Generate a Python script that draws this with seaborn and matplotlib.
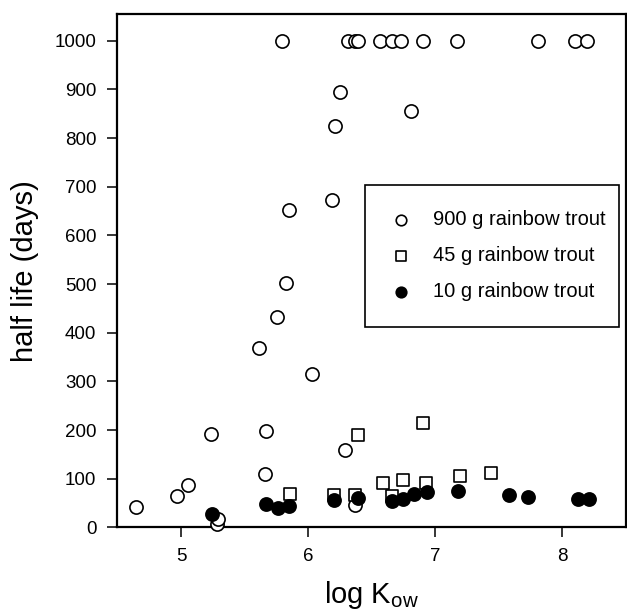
import matplotlib
matplotlib.use('Agg')
import matplotlib.pyplot as plt
import seaborn as sns

# 900 g rainbow trout (open circles)
kow_900 = [4.645, 4.965, 5.055, 5.236, 5.278, 5.288, 5.612, 5.656, 5.664, 5.749,
           5.793, 5.827, 5.846, 6.032, 6.187, 6.208, 6.247, 6.287, 6.313, 6.366,
           6.366, 6.392, 6.563, 6.655, 6.728, 6.807, 6.904, 7.167, 7.805, 8.099, 8.191]
half_life_900 = [42, 64, 87, 193, 8, 18, 368, 110, 199, 433,
                 1000, 502, 653, 316, 673, 824, 894, 160, 1000, 1000,
                 47, 1000, 1000, 1000, 1000, 855, 1000, 1000, 1000, 1000, 1000]

# 45 g rainbow trout (open squares)
kow_45 = [5.853, 6.203, 6.366, 6.387, 6.589, 6.66, 6.746, 6.899, 6.925, 7.193, 7.437]
half_life_45 = [68, 66, 66, 191, 92, 64, 98, 214, 92, 105, 112]

# 10 g rainbow trout (filled circles)
kow_10 = [5.241, 5.67, 5.757, 5.846, 6.203, 6.387, 6.655, 6.746, 6.833, 6.931,
          7.18, 7.579, 7.731, 8.12, 8.212]
half_life_10 = [27, 49, 40, 44, 57, 60, 54, 59, 69, 72, 74, 66, 63, 59, 59]

x_ticks = [5, 6, 7, 8]
y_ticks = [0, 100, 200, 300, 400, 500, 600, 700, 800, 900, 1000]

sns.set_style('ticks')
plt.rcParams['font.family'] = ['Liberation Sans', 'DejaVu Sans']
plt.rcParams['text.color'] = 'black'
plt.rcParams['axes.labelcolor'] = 'black'
plt.rcParams['xtick.color'] = 'black'
plt.rcParams['ytick.color'] = 'black'

fig = plt.figure(figsize=(6.27, 6.16), dpi=100)
ax = fig.add_axes([0.186, 0.1437, 0.8123, 0.8336])

sns.scatterplot(x=kow_900, y=half_life_900, marker='o', s=90, color='white',
                edgecolor='black', linewidth=1.2, label='900 g rainbow trout',
                ax=ax, clip_on=False, zorder=3)
sns.scatterplot(x=kow_45, y=half_life_45, marker='s', s=80, color='white',
                edgecolor='black', linewidth=1.2, label='45 g rainbow trout',
                ax=ax, clip_on=False, zorder=4)
sns.scatterplot(x=kow_10, y=half_life_10, marker='o', s=90, color='black',
                edgecolor='black', linewidth=1.2, label='10 g rainbow trout',
                ax=ax, clip_on=False, zorder=5)

ax.set_xlim(4.49, 8.5)
ax.set_ylim(0, 1055)
ax.set_xticks(x_ticks)
ax.set_yticks(y_ticks)
ax.tick_params(axis='both', direction='out', length=7.5, width=1.1, color='black',
               labelsize=13.5, pad=7)

for sp in ax.spines.values():
    sp.set_color('black')
    sp.set_linewidth(1.6)

ax.set_xlabel(r'log K$_\mathregular{ow}$', fontsize=21, labelpad=10)
ax.set_ylabel('half life (days)', fontsize=21, labelpad=11)

handles, labels = ax.get_legend_handles_labels()
leg = ax.legend(handles, labels, loc='upper left',
                bbox_to_anchor=(0.4885, 0.394, 0.498, 0.273), mode='expand',
                borderaxespad=0, fontsize=14.5, markerscale=0.8,
                handlelength=1.0, handletextpad=1.1, labelspacing=0.85,
                borderpad=1.25, fancybox=False, framealpha=1)
leg.get_frame().set_edgecolor('black')
leg.get_frame().set_linewidth(1.2)

fig.savefig('out.png', dpi=100)
